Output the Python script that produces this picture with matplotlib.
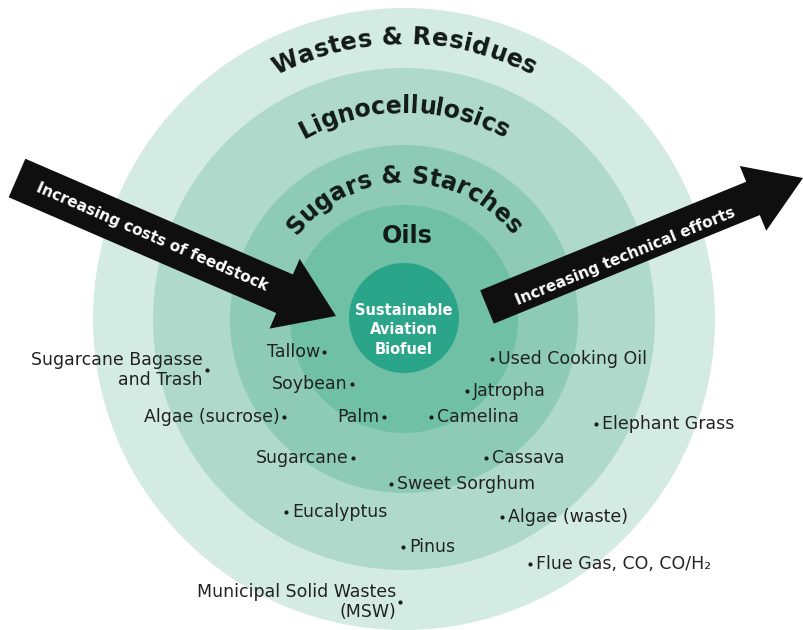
import matplotlib
matplotlib.use("Agg")
import matplotlib.pyplot as plt
import numpy as np
from matplotlib.patches import Circle, Polygon
from matplotlib.font_manager import FontProperties, findfont, get_font

# ---------------- data ----------------
ring_titles = ["Wastes & Residues", "Lignocellulosics", "Sugars & Starches", "Oils"]
center_title = "Sustainable\nAviation\nBiofuel"
arrow_in_label = "Increasing costs of feedstock"
arrow_out_label = "Increasing technical efforts"

feedstocks = ["Tallow", "Soybean", "Palm", "Camelina", "Used Cooking Oil", "Jatropha",
              "Sugarcane Bagasse\nand Trash", "Algae (sucrose)", "Sugarcane", "Cassava",
              "Sweet Sorghum", "Eucalyptus", "Algae (waste)", "Pinus", "Elephant Grass",
              "Flue Gas, CO, CO/H\u2082", "Municipal Solid Wastes\n(MSW)"]
feed_x = [324, 352, 384, 431, 492, 467, 207, 284, 353, 486, 391, 286, 502, 403, 596, 530, 400]
feed_y = [352, 384, 417, 417, 359, 391, 370, 417, 458, 458, 484, 512, 517, 547, 424, 564, 602]
label_side = ["left", "left", "left", "right", "right", "right", "left", "left", "left",
              "right", "right", "right", "right", "right", "right", "right", "left"]

# ---------------- layout ----------------
W, H = 804, 630
fig = plt.figure(figsize=(W / 100, H / 100), dpi=100)
ax = fig.add_axes([0, 0, 1, 1])
ax.set_xlim(0, W)
ax.set_ylim(H, 0)
ax.axis("off")

cx, cy = 404, 319
ring_radius = [311, 251, 174, 114]
ring_colors = ["#d3ebe3", "#aed9cb", "#8ecbb7", "#70c0a6"]
for r, c in zip(ring_radius, ring_colors):
    ax.add_patch(Circle((cx, cy), r, facecolor=c, edgecolor="none", zorder=1))
ax.add_patch(Circle((cx, cy - 1), 55, facecolor="#2ba589", edgecolor="none", zorder=2))

title_color = "#111a17"
bold = FontProperties(family="DejaVu Sans", weight="bold")


def advances(text, size):
    font = get_font(findfont(bold))
    font.set_size(size, 100)
    out = []
    for ch in text:
        g = font.load_char(ord(ch))
        out.append(g.linearHoriAdvance / 65536.0)
    return np.array(out)


def curved_text(text, r, size, spacing=1.0):
    adv = advances(text, size) * spacing
    total = adv.sum()
    centers = np.cumsum(adv) - adv / 2 - total / 2
    for ch, s in zip(text, centers):
        th = s / r
        x = cx + r * np.sin(th)
        y = cy - r * np.cos(th)
        ax.text(x, y, ch, rotation=-np.degrees(th), ha="center", va="baseline",
                rotation_mode="anchor", fontsize=size, fontweight="bold",
                family="DejaVu Sans", color=title_color, zorder=6)


curved_text(ring_titles[0], 275, 17.5, 1.02)
curved_text(ring_titles[1], 206, 17.2, 0.98)
curved_text(ring_titles[2], 136, 17.2, 1.0)
ax.text(407, 236, ring_titles[3], ha="center", va="center", fontsize=17.2,
        fontweight="bold", color=title_color, zorder=6)

ax.text(404, 330, center_title, ha="center", va="center", fontsize=10.5,
        fontweight="bold", color="white", linespacing=1.35, zorder=6)


def arrow(tail, tip, sw, hw, hl):
    tail = np.array(tail, float)
    tip = np.array(tip, float)
    d = tip - tail
    u = d / np.linalg.norm(d)
    n = np.array([-u[1], u[0]])
    base = tip - u * hl
    pts = [tail + n * sw, base + n * sw, base + n * hw, tip,
           base - n * hw, base - n * sw, tail - n * sw]
    ax.add_patch(Polygon(pts, closed=True, facecolor="#0f0f0f", edgecolor="none", zorder=4))
    return -np.degrees(np.arctan2(d[1], d[0]))


a1 = arrow((17, 178), (336, 316), 21, 38, 56)
a2 = arrow((487, 307), (803, 178), 18, 35, 54)
ax.text(152, 237, arrow_in_label, rotation=a1, rotation_mode="anchor", ha="center",
        va="center", fontsize=11, fontweight="bold", color="white", zorder=5)
ax.text(625, 256, arrow_out_label, rotation=a2, rotation_mode="anchor", ha="center",
        va="center", fontsize=11, fontweight="bold", color="white", zorder=5)

ax.scatter(feed_x, feed_y, s=9, color="#1a1a1a", zorder=7, linewidths=0)
for name, x, y, side in zip(feedstocks, feed_x, feed_y, label_side):
    if side == "left":
        ax.text(x - 4, y, name, ha="right", va="center", multialignment="right",
                fontsize=12.5, color="#222222", zorder=7)
    else:
        ax.text(x + 6, y, name, ha="left", va="center", fontsize=12.5,
                color="#222222", zorder=7)

fig.savefig("out.png", dpi=100)
